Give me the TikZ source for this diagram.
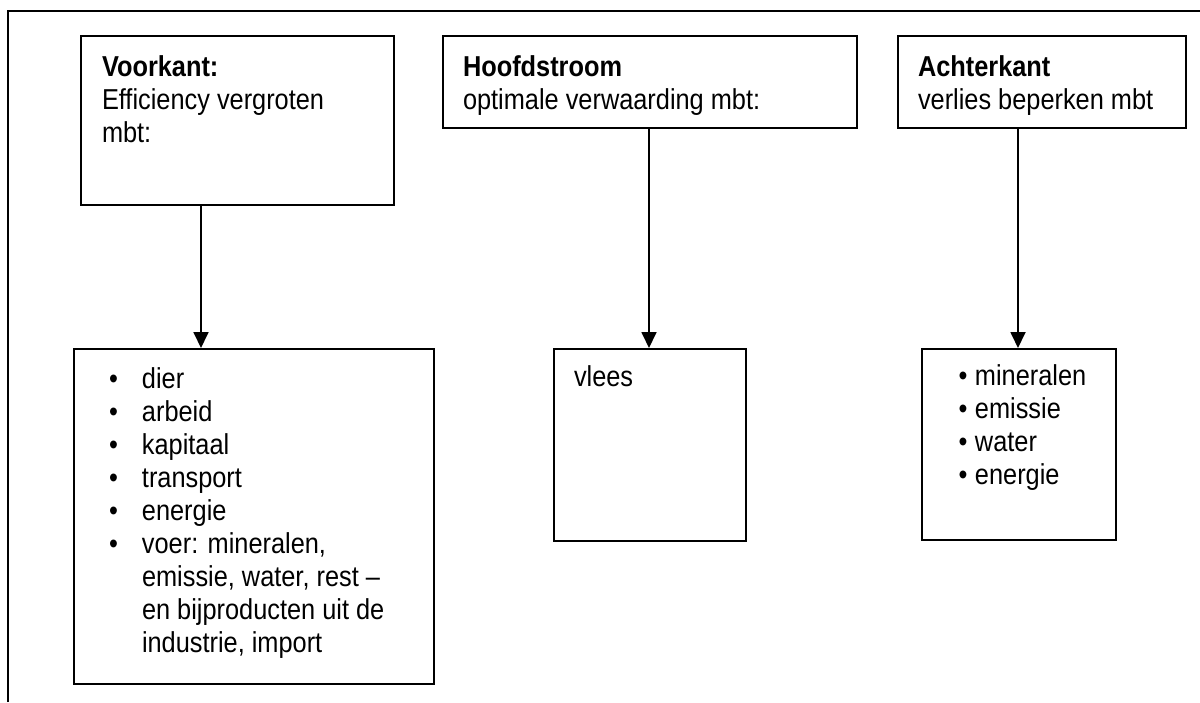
\documentclass[tikz,border=0pt]{standalone}
\usepackage{fontspec}
\setmainfont[FakeStretch=0.88]{Liberation Sans}
\usetikzlibrary{arrows.meta}
\newcommand\boxtext[5]{\parbox[c][#2pt][t]{#1pt}{\raggedright\leftskip=#3pt\parindent=0pt\rule{0pt}{#4pt}#5}}
\newcommand\bul[1]{\leavevmode\llap{•\hspace{#1pt}}}
\begin{document}
\begin{tikzpicture}[x=1pt,y=-1pt,
  frame/.style={line width=1.5pt},
  boxnode/.style={draw, line width=2pt, rectangle, inner sep=0pt, anchor=north west,
    font=\fontsize{28.8pt}{33pt}\selectfont},
  arr/.style={line width=1.8pt, -{Triangle[length=16pt,width=15pt]}}]
\useasboundingbox (0,0) rectangle (1200,702);
\draw[frame] (8,702) -- (8,11) -- (1200,11);

\node[boxnode] (vk) at (80,35) {\boxtext{313}{169}{21}{40}{\textbf{Voorkant:}\\Efficiency vergroten\\mbt:}};
\node[boxnode] (hs) at (442,35) {\boxtext{414}{92}{20}{40}{\textbf{Hoofdstroom}\\optimale verwaarding mbt:}};
\node[boxnode] (ak) at (897,35) {\boxtext{288}{92}{20}{40}{\textbf{Achterkant}\\verlies beperken mbt}};

\node[boxnode] (l1) at (73,348) {\boxtext{360}{335}{68}{39}{%
\bul{24}dier\\
\bul{24}arbeid\\
\bul{24}kapitaal\\
\bul{24}transport\\
\bul{24}energie\\
\bul{24}voer: mineralen,\\
emissie, water, rest --\\
en bijproducten uit de\\
industrie, import}};
\node[boxnode] (l2) at (553,348) {\boxtext{192}{192}{20}{37}{vlees}};
\node[boxnode] (l3) at (921,348) {\boxtext{194}{191}{53}{36}{%
\bul{7.5}mineralen\\
\bul{7.5}emissie\\
\bul{7.5}water\\
\bul{7.5}energie}};

\coordinate (c1) at (201,0);
\coordinate (c2) at (649,0);
\coordinate (c3) at (1018,0);
\draw[arr] (c1 |- vk.south) -- (c1 |- l1.north);
\draw[arr] (c2 |- hs.south) -- (c2 |- l2.north);
\draw[arr] (c3 |- ak.south) -- (c3 |- l3.north);
\end{tikzpicture}
\end{document}
